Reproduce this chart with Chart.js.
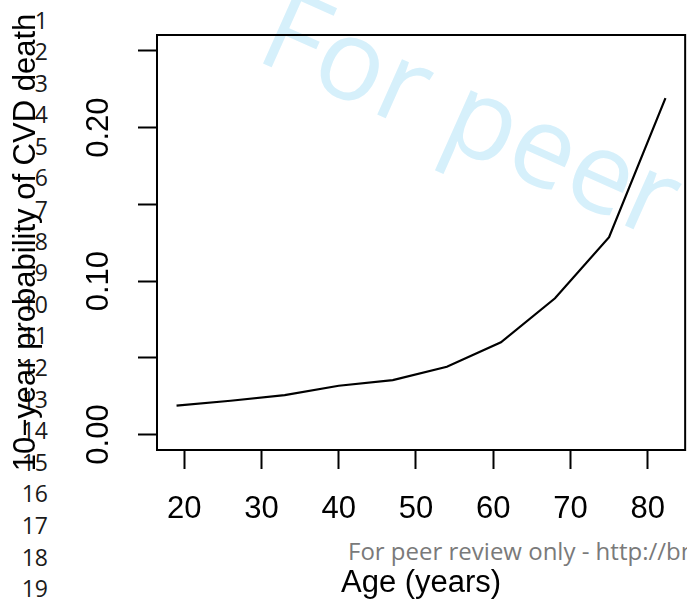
<!DOCTYPE html>
<html>
<head>
<meta charset="utf-8">
<script src="https://cdn.jsdelivr.net/npm/chart.js@4"></script>
<style>
  html, body { margin: 0; padding: 0; background: #fff; }
  #page { position: relative; width: 687px; height: 603px; overflow: hidden; }
  #watermark {
    position: absolute; left: 253px; top: -41px;
    font: 113px "Open Sans"; line-height: 1; white-space: nowrap;
    color: rgb(214, 240, 251);
    transform-origin: 0 100.3px; transform: rotate(24.1deg);
  }
  #lines {
    position: absolute; left: 0; top: 4.5px; width: 48px;
    font: 23px "Open Sans"; line-height: 31.6px; text-align: right;
    color: #1a1a1a; white-space: pre;
  }
  #footer {
    position: absolute; left: 348px; top: 538.7px;
    font: 24px "Open Sans"; line-height: 1; white-space: nowrap; color: #7a7a7a;
  }
  canvas { position: absolute; left: 0; top: 0; }
</style>
</head>
<body>
<div id="page">
  <div id="watermark">For peer review only</div>
  <div id="lines"></div>
  <div id="footer">For peer review only - http://bmjopen.bmj.com/site/about/guidelines.xhtml</div>
  <canvas id="chart" width="687" height="603"></canvas>
</div>
<script>
// 10-year probability of CVD death by age
const ages = [19, 26, 33, 40, 47, 54, 61, 68, 75, 82.3];
const cvdRisk = [0.0188, 0.0220, 0.0257, 0.0318, 0.0355, 0.0442, 0.0601, 0.0888, 0.1286, 0.2192];
const xTicks = [20, 30, 40, 50, 60, 70, 80];
const yTicks = [0, 0.05, 0.10, 0.15, 0.20, 0.25];
const yTickLabels = ['0.00', '', '0.10', '', '0.20', ''];
const lineNumbers = [1, 2, 3, 4, 5, 6, 7, 8, 9, 10, 11, 12, 13, 14, 15, 16, 17, 18, 19];

document.getElementById('lines').textContent = lineNumbers.join('\n');

const axisFont = { family: 'Liberation Sans', size: 31 };

// R-style box round the plot region
const frame = {
  id: 'frame',
  afterDraw(chart) {
    const { ctx, chartArea: a } = chart;
    ctx.save();
    ctx.strokeStyle = '#000';
    ctx.lineWidth = 2;
    ctx.strokeRect(a.left, a.top, a.right - a.left, a.bottom - a.top);
    ctx.restore();
  }
};

new Chart(document.getElementById('chart'), {
  type: 'line',
  data: {
    datasets: [{
      data: ages.map((a, i) => ({ x: a, y: cvdRisk[i] })),
      borderColor: '#000',
      borderWidth: 2.2,
      pointRadius: 0,
      tension: 0,
      fill: false,
    }],
  },
  options: {
    responsive: false,
    animation: false,
    devicePixelRatio: 1,
    layout: { padding: { top: 35, right: 1, left: 0, bottom: 0 } },
    plugins: { legend: { display: false }, tooltip: { enabled: false } },
    scales: {
      x: {
        type: 'linear', min: 16.47, max: 84.85,
        afterBuildTicks: s => { s.ticks = xTicks.map(v => ({ value: v })); },
        afterFit: s => { s.height = 153; },
        border: { display: false },
        grid: { drawOnChartArea: false, drawTicks: true, tickLength: 19, tickColor: '#000', tickWidth: 2 },
        ticks: { color: '#000', font: axisFont, padding: 22, minRotation: 0, maxRotation: 0 },
        title: { display: true, text: 'Age (years)', color: '#000', font: axisFont, padding: { top: 0, bottom: 1 } },
      },
      y: {
        type: 'linear', min: -0.0101, max: 0.2604,
        afterBuildTicks: s => { s.ticks = yTicks.map(v => ({ value: v })); },
        afterFit: s => { s.width = 157; },
        border: { display: false },
        grid: { drawOnChartArea: false, drawTicks: true, tickLength: 19, tickColor: '#000', tickWidth: 2 },
        ticks: {
          color: '#000', font: axisFont, padding: 8.5, minRotation: 90, maxRotation: 90, crossAlign: 'center',
          callback: (v, i) => yTickLabels[i],
        },
        title: { display: true, text: '10−year probability of CVD death', color: '#000', font: axisFont, padding: { top: 8, bottom: 0 } },
      },
    },
  },
  plugins: [frame],
});
</script>
</body>
</html>
